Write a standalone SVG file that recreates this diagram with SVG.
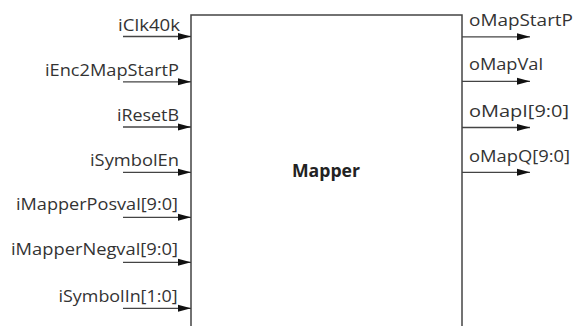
<svg xmlns="http://www.w3.org/2000/svg" width="584" height="326" viewBox="0 0 584 326">
  <style>
    .port { font-family: "Open Sans", "Noto Sans", "DejaVu Sans", sans-serif; font-size: 16px; fill: #333; }
    .in { text-anchor: end; }
    .title { font-family: "Open Sans", "Noto Sans", "DejaVu Sans", sans-serif; font-size: 18px; font-weight: bold; fill: #222; text-anchor: middle; }
    .box { fill: #fff; stroke: #444; stroke-width: 1.5; }
    .wire { stroke: #444; stroke-width: 1.3; fill: none; marker-end: url(#arrow); }
  </style>
  <defs>
    <marker id="arrow" markerWidth="13" markerHeight="8" refX="13" refY="4" orient="auto" markerUnits="userSpaceOnUse">
      <path d="M0,0.5 L13,4 L0,7.5 Z" fill="#111"/>
    </marker>
  </defs>
  <rect width="584" height="326" fill="#fff"/>

  <!-- Mapper block; its lower edge runs off the bottom of the canvas -->
  <g id="mapper">
    <rect class="box" x="191" y="15" width="271" height="330"/>
    <text class="title" x="326" y="176.5" textLength="68" lengthAdjust="spacingAndGlyphs">Mapper</text>
  </g>

  <!-- input and output port wires -->
  <g id="connectors">
    <line class="wire" x1="123" y1="36.5" x2="191" y2="36.5"/>
    <line class="wire" x1="123" y1="81.8" x2="191" y2="81.8"/>
    <line class="wire" x1="123" y1="127" x2="191" y2="127"/>
    <line class="wire" x1="123" y1="172.3" x2="191" y2="172.3"/>
    <line class="wire" x1="123" y1="217.3" x2="191" y2="217.3"/>
    <line class="wire" x1="123" y1="262.3" x2="191" y2="262.3"/>
    <line class="wire" x1="123" y1="308.3" x2="191" y2="308.3"/>

    <line class="wire" x1="462" y1="36.8" x2="530" y2="36.8"/>
    <line class="wire" x1="462" y1="81.3" x2="530" y2="81.3"/>
    <line class="wire" x1="462" y1="127.5" x2="530" y2="127.5"/>
    <line class="wire" x1="462" y1="172.3" x2="530" y2="172.3"/>
  </g>

  <!-- input port labels -->
  <g id="inputs">
    <text class="port in" x="180" y="30.5" textLength="62" lengthAdjust="spacingAndGlyphs">iClk40k</text>
    <text class="port in" x="179" y="75.8" textLength="134" lengthAdjust="spacingAndGlyphs">iEnc2MapStartP</text>
    <text class="port in" x="179" y="121" textLength="62" lengthAdjust="spacingAndGlyphs">iResetB</text>
    <text class="port in" x="179" y="166.3" textLength="89" lengthAdjust="spacingAndGlyphs">iSymbolEn</text>
    <text class="port in" x="178" y="210" textLength="162" lengthAdjust="spacingAndGlyphs">iMapperPosval[9:0]</text>
    <text class="port in" x="178" y="255" textLength="167" lengthAdjust="spacingAndGlyphs">iMapperNegval[9:0]</text>
    <text class="port in" x="177.5" y="301.8" textLength="119" lengthAdjust="spacingAndGlyphs">iSymbolIn[1:0]</text>
  </g>

  <!-- output port labels -->
  <g id="outputs">
    <text class="port" x="469" y="25.5" textLength="104" lengthAdjust="spacingAndGlyphs">oMapStartP</text>
    <text class="port" x="469" y="70" textLength="74" lengthAdjust="spacingAndGlyphs">oMapVal</text>
    <text class="port" x="469" y="116.5" textLength="100" lengthAdjust="spacingAndGlyphs">oMapI[9:0]</text>
    <text class="port" x="469" y="161.5" textLength="101" lengthAdjust="spacingAndGlyphs">oMapQ[9:0]</text>
  </g>
</svg>
